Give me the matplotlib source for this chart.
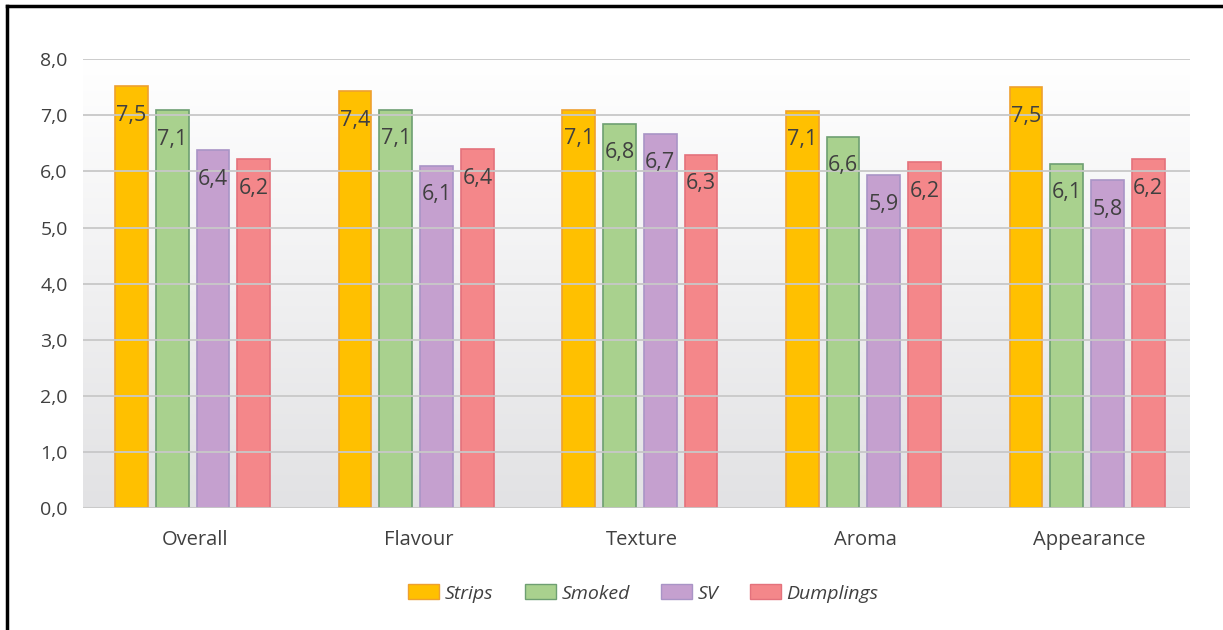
import numpy as np
import matplotlib.pyplot as plt
from matplotlib.lines import Line2D
from matplotlib.patches import Patch

categories = ["Overall", "Flavour", "Texture", "Aroma", "Appearance"]
series = ["Strips", "Smoked", "SV", "Dumplings"]
strips = [7.52, 7.43, 7.10, 7.08, 7.50]
smoked = [7.09, 7.10, 6.85, 6.62, 6.14]
sv = [6.38, 6.10, 6.67, 5.93, 5.84]
dumplings = [6.22, 6.40, 6.30, 6.17, 6.22]
yticks = [0, 1, 2, 3, 4, 5, 6, 7, 8]

values = [strips, smoked, sv, dumplings]
fills = ["#FFC000", "#A9D18E", "#C5A0CF", "#F4878A"]
edges = ["#EEA030", "#6E9F72", "#A994C6", "#E4727C"]

plt.rcParams['font.family'] = ['Open Sans', 'DejaVu Sans']
txt = "#404040"

fig = plt.figure(figsize=(12.23, 6.3), dpi=100)
ax = fig.add_axes([0.0679, 0.1937, 0.905, 0.7123])

# plot-area gradient, white at top to light grey at bottom
grad = np.linspace(1, 0, 256).reshape(-1, 1)
top = np.array([1.0, 1.0, 1.0])
bot = np.array([0.886, 0.886, 0.894])
img = grad[..., None] * top + (1 - grad[..., None]) * bot
ax.imshow(img, extent=(-0.5, 4.45, 0, 8), aspect='auto', zorder=0)

x = np.arange(len(categories))
step = 0.1824
width = 0.146
for i, (name, vals) in enumerate(zip(series, values)):
    pos = x + (i - 1.5) * step - 0.01
    ax.bar(pos, vals, width, color=fills[i], edgecolor=edges[i],
           linewidth=1.2, zorder=2, label=name)
    for p, v in zip(pos, vals):
        ax.text(p, v - 0.52, f"{v:.1f}".replace('.', ','), ha='center',
                va='center', fontsize=15.5, color=txt, zorder=3)

ax.set_xlim(-0.5, 4.45)
ax.set_ylim(0, 8)
ax.set_yticks(yticks)
ax.set_yticklabels([f"{t:.1f}".replace('.', ',') for t in yticks])
ax.set_xticks(x)
ax.set_xticklabels(categories)
ax.tick_params(length=0, labelsize=14, colors=txt)
ax.tick_params(axis='x', labelsize=14.5)
ax.tick_params(axis='y', pad=11)
ax.tick_params(axis='x', pad=16)
for s in ax.spines.values():
    s.set_visible(False)
ax.yaxis.grid(True, color="#C8C8C8", linewidth=1.3, zorder=1)
ax.set_axisbelow(False)
for gl in ax.get_ygridlines():
    gl.set_zorder(1)

handles = [Patch(facecolor=fills[i], edgecolor=edges[i], label=series[i])
           for i in range(4)]
leg = fig.legend(handles=handles, loc='center', bbox_to_anchor=(0.526, 0.058),
                 ncol=4, frameon=False, handlelength=1.6, handleheight=0.8,
                 columnspacing=1.6, handletextpad=0.3,
                 prop={'style': 'italic', 'size': 14})
for t in leg.get_texts():
    t.set_color(txt)

# outer frame (top and left edges)
fig.add_artist(Line2D([0.0057, 1.0], [0.9905, 0.9905], color='black', lw=2.5,
                      transform=fig.transFigure))
fig.add_artist(Line2D([0.0057, 0.0057], [0.0, 0.9905], color='black', lw=2.5,
                      transform=fig.transFigure))

fig.savefig("out.png", dpi=100)
